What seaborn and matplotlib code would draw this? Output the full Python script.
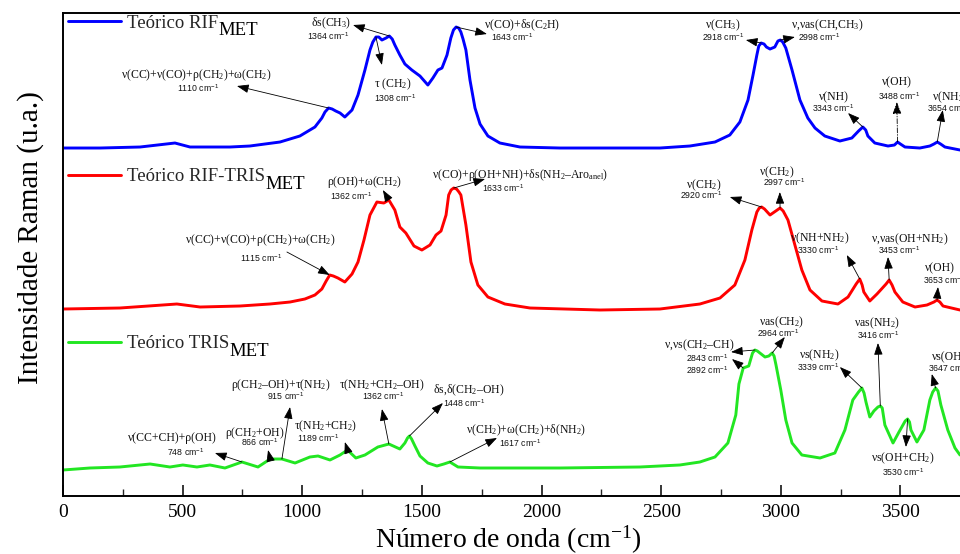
import numpy as np
import pandas as pd
import matplotlib
matplotlib.use("Agg")
import matplotlib.pyplot as plt
from matplotlib.legend import Legend
import seaborn as sns

# ---------------- spectra (wavenumber in cm-1, stacked Raman intensity, a.u.) ----------------
wn_rif = [0, 155, 322, 468, 531, 698, 781, 907, 990, 1053, 1082, 1095, 1110, 1125, 1140,
          1158, 1178, 1208, 1233, 1262, 1283, 1295, 1308, 1320, 1333, 1350, 1364, 1376,
          1387, 1408, 1429, 1458, 1492, 1525, 1546, 1567, 1584, 1605, 1621, 1632, 1643,
          1654, 1663, 1672, 1684, 1701, 1722, 1743, 1776, 1826, 1910, 2077, 2495, 2620,
          2725, 2787, 2829, 2863, 2884, 2900, 2908, 2918, 2930, 2940, 2955, 2975, 2988,
          2998, 3008, 3021, 3047, 3080, 3113, 3143, 3184, 3247, 3297, 3325, 3343, 3355,
          3364, 3393, 3448, 3475, 3488, 3500, 3519, 3581, 3623, 3640, 3654, 3668, 3686,
          3749]
int_rif = [348, 348, 349, 353, 349, 349, 350, 354, 360, 369, 378, 384, 388, 387, 385,
           383, 379, 386, 401, 426, 446, 454, 459, 459, 456, 458, 460, 457,
           451, 441, 432, 426, 420, 411, 418, 426, 428, 441, 458, 466, 469,
           468, 464, 457, 446, 416, 388, 372, 360, 353, 349, 348, 348, 350,
           354, 361, 374, 396, 421, 441, 450, 453, 452, 449, 447, 449, 455,
           456, 454, 448, 426, 396, 378, 368, 360, 355, 358, 365, 369, 366,
           360, 353, 350, 351, 354, 352, 349, 348, 350, 352, 354, 352, 349,
           346]

wn_riftris = [0, 238, 476, 573, 740, 865, 949, 1011, 1053, 1082, 1100, 1115, 1130, 1149,
              1178, 1208, 1233, 1258, 1283, 1312, 1341, 1362, 1387, 1408, 1433, 1467,
              1500, 1534, 1559, 1580, 1601, 1612, 1622, 1633, 1645, 1655, 1663, 1684,
              1705, 1734, 1776, 1847, 1952, 2244, 2495, 2662, 2746, 2808, 2850, 2879,
              2900, 2910, 2920, 2932, 2955, 2985, 2997, 3010, 3030, 3059, 3088, 3122,
              3172, 3239, 3281, 3315, 3330, 3340, 3347, 3372, 3402, 3440, 3453, 3465,
              3477, 3510, 3561, 3611, 3640, 3653, 3665, 3678, 3749]
int_riftris = [187, 188, 192, 189, 190, 192, 194, 197, 201, 207, 215, 221, 220, 218,
               214, 222, 234, 256, 281, 294, 293, 296, 286, 269, 263, 250,
               246, 251, 261, 265, 281, 301, 306, 308, 307, 304, 301, 271,
               234, 211, 199, 192, 188, 186, 187, 192, 198, 211, 236, 266,
               284, 288, 289, 287, 281, 286, 288, 285, 276, 251, 226, 206,
               195, 192, 199, 212, 217, 211, 204, 195, 202, 212, 216, 211,
               204, 194, 189, 191, 194, 196, 194, 190, 186]

wn_tris = [0, 113, 238, 364, 447, 501, 560, 614, 677, 748, 815, 866, 915, 970, 1032,
           1066, 1116, 1158, 1189, 1224, 1262, 1316, 1362, 1408, 1429, 1440, 1448, 1457,
           1471, 1492, 1525, 1563, 1592, 1617, 1651, 1743, 2077, 2411, 2578, 2662, 2725,
           2779, 2812, 2825, 2843, 2866, 2882, 2892, 2902, 2934, 2950, 2964, 2972, 2980,
           3000, 3021, 3047, 3088, 3164, 3226, 3268, 3301, 3325, 3339, 3348, 3356, 3372,
           3389, 3406, 3416, 3424, 3435, 3469, 3494, 3520, 3530, 3538, 3544, 3569, 3598,
           3623, 3635, 3647, 3657, 3669, 3698, 3728, 3749]
int_tris = [26, 28, 29, 32, 29, 31, 29, 31, 28, 34, 29, 37, 37, 33, 39,
            40, 36, 41, 46, 38, 41, 49, 52, 47, 53, 58, 60, 57,
            50, 40, 33, 30, 32, 34, 29, 28, 28, 29, 31, 34, 39,
            53, 81, 112, 128, 130, 143, 146, 145, 139, 140, 143, 140, 131,
            106, 76, 53, 41, 38, 43, 66, 96, 104, 108, 103, 94, 79,
            85, 89, 90, 88, 71, 53, 64, 75, 77, 74, 66, 54, 66,
            96, 104, 108, 105, 91, 66, 48, 41]

series_names = ["Teórico RIF", "Teórico RIF-TRIS", "Teórico TRIS"]
series_sub = "MET"

# ---------------- band assignments ----------------
peaks_rif = [1110, 1308, 1364, 1643, 2918, 2998, 3343, 3488, 3654]
modes_rif = ["ν(CC)+ν(CO)+ρ(CH$_2$)+ω(CH$_2$)", "τ (CH$_2$)", "δs(CH$_3$)",
             "ν(CO)+δs(C$_2$H)", "ν(CH$_3$)", "ν,νas(CH,CH$_3$)", "ν(NH)", "ν(OH)",
             "ν(NH$_2$)"]

peaks_riftris = [1115, 1362, 1633, 2920, 2997, 3330, 3453, 3653]
modes_riftris = ["ν(CC)+ν(CO)+ρ(CH$_2$)+ω(CH$_2$)", "ρ(OH)+ω(CH$_2$)",
                 "ν(CO)+ρ(OH+NH)+δs(NH$_2$–Aro$_{anel}$)", "ν(CH$_2$)", "ν(CH$_2$)",
                 "ν(NH+NH$_2$)", "ν,νas(OH+NH$_2$)", "ν(OH)"]

peaks_tris = [748, 866, 915, 1189, 1362, 1448, 1617, 2843, 2892, 2964, 3339, 3416, 3530, 3647]
modes_tris = ["ν(CC+CH)+ρ(OH)", "ρ(CH$_2$+OH)", "ρ(CH$_2$–OH)+τ(NH$_2$)", "τ(NH$_2$+CH$_2$)",
              "τ(NH$_2$+CH$_2$–OH)", "δs,δ(CH$_2$–OH)", "ν(CH$_2$)+ω(CH$_2$)+δ(NH$_2$)",
              "ν,νs(CH$_2$–CH)", "", "νas(CH$_2$)", "νs(NH$_2$)", "νas(NH$_2$)",
              "νs(OH+CH$_2$)", "νs(OH–CH)"]

# ---------------- label placement: (assignment xy, wavenumber xy, arrow end, arrowhead at label, align) ----------------
place_rif = [
    ((556, 421), (564, 408), (727, 410), True, "center"),
    ((1379, 412), (1387, 398), (1333, 431), True, "center"),
    ((1120, 473), (1107, 460), (1212, 471), True, "center"),
    ((1918, 471), (1876, 459), (1772, 462), True, "center"),
    ((2758, 471), (2758, 459), (2854, 456), True, "center"),
    ((3193, 471), (3159, 459), (3059, 459), True, "center"),
    ((3222, 399), (3218, 388), (3281, 383), True, "center"),
    ((3485, 414), (3494, 400), (3485, 394), True, "center"),
    ((3631, 399), (3611, 388), (3677, 386), True, "left"),
]
place_riftris = [
    ((823, 256), (827, 238), (936, 244), False, "center"),
    ((1262, 314), (1204, 300), (1337, 306), True, "center"),
    ((1910, 321), (1839, 308), (1764, 317), True, "center"),
    ((2679, 311), (2666, 301), (2787, 299), True, "center"),
    ((2984, 324), (3013, 314), (2996, 304), True, "center"),
    ((3164, 258), (3155, 246), (3276, 241), True, "center"),
    ((3540, 257), (3494, 246), (3448, 239), True, "center"),
    ((3602, 228), (3594, 216), (3657, 209), True, "left"),
]
place_tris = [
    ((456, 58), (514, 44), (635, 43), True, "center"),
    ((802, 63), (823, 54), (857, 46), True, "center"),
    ((911, 111), (932, 100), (949, 89), True, "center"),
    ((1099, 70), (1066, 58), (1178, 54), True, "center"),
    ((1333, 111), (1337, 100), (1333, 87), True, "center"),
    ((1697, 106), (1676, 93), (1588, 93), True, "center"),
    ((1935, 66), (1910, 53), (1814, 58), True, "center"),
    ((2658, 151), (2691, 138), (2796, 137), True, "center"),
    (None, (2691, 126), (2792, 144), True, "center"),
    ((3005, 174), (2988, 163), (3017, 159), True, "center"),
    ((3159, 141), (3155, 129), (3247, 129), True, "center"),
    ((3402, 173), (3406, 161), (3406, 153), True, "center"),
    ((3510, 38), (3510, 24), (3523, 49), True, "center"),
    ((3631, 139), (3615, 128), (3631, 122), True, "left"),
]

colors = ["#0000FF", "#FF0000", "#22E622"]

# ---------------- style ----------------
sns.set_theme(style="white")
SERIF = ["Liberation Serif", "DejaVu Serif"]
SANS = ["Liberation Sans", "DejaVu Sans"]
plt.rcParams["font.family"] = SERIF
plt.rcParams["mathtext.fontset"] = "custom"
plt.rcParams["mathtext.default"] = "regular"
plt.rcParams["mathtext.rm"] = "Liberation Serif"

fig = plt.figure(figsize=(9.6, 5.54), dpi=100)
ax = fig.add_axes([0.0656, 0.1047, 0.9344, 0.8718])

frames = []
for name, w, v in zip(series_names, [wn_rif, wn_riftris, wn_tris],
                      [int_rif, int_riftris, int_tris]):
    frames.append(pd.DataFrame({"wn": w, "intensidade": v, "espectro": name}))
df = pd.concat(frames, ignore_index=True)

sns.lineplot(data=df, x="wn", y="intensidade", hue="espectro", palette=colors,
             hue_order=series_names, sort=False, estimator=None, legend=False,
             linewidth=2.1, solid_joinstyle="round", solid_capstyle="round", ax=ax)

ax.set_xlim(0, 3749)
ax.set_ylim(0, 483)
ax.set_yticks([])
ax.set_xticks(np.arange(0, 3501, 500))
ax.set_xticks(np.arange(250, 3750, 500), minor=True)
ax.tick_params(axis="x", which="major", direction="in", length=8, width=1.1,
               bottom=True, top=False, labelsize=14, pad=6, colors="black")
ax.tick_params(axis="x", which="minor", direction="in", length=5, width=1.0,
               bottom=True, top=False)
for lab in ax.get_xticklabels():
    lab.set_family(SERIF)
ax.spines["right"].set_visible(False)
for s in ["left", "top", "bottom"]:
    ax.spines[s].set_color("black")
    ax.spines[s].set_linewidth(1.4)

ax.set_xlabel("Número de onda (cm$^{-1}$)", fontsize=20, color="black")
ax.set_ylabel("Intensidade Raman (u.a.)", fontsize=21, color="black")
ax.xaxis.set_label_coords(0.496, -0.058)
ax.yaxis.set_label_coords(-0.021, 0.535)

# ---------------- legends, one beside each spectrum ----------------
lines = ax.get_lines()[:3]
legend_rows = [0.979, 0.661, 0.315]
for line, name, yrow in zip(lines, series_names, legend_rows):
    leg = Legend(ax, [line], [name], loc="center left", bbox_to_anchor=(0.003, yrow),
                 frameon=False, handlelength=2.85, handletextpad=0.3, borderaxespad=0,
                 borderpad=0.1, prop={"family": SERIF, "size": 13.5})
    ax.add_artist(leg)
    ax.annotate(series_sub, xy=(1, 0), xycoords=leg.get_texts()[0], xytext=(0.5, -2.5),
                textcoords="offset points", ha="left", va="baseline",
                fontsize=13.5, family=SERIF, color="black", zorder=6)

# ---------------- band annotations ----------------
arrow_kw = dict(arrowstyle="-|>,head_length=0.6,head_width=0.22", color="black",
                lw=0.6, mutation_scale=12, shrinkA=0, shrinkB=0)


def annotate_bands(wn, inten, peaks, modes, places):
    for pk, mode, (mxy, wxy, end, head_at_label, align) in zip(peaks, modes, places):
        peak_xy = (pk, float(np.interp(pk, wn, inten)))
        if mxy is not None and mode:
            ax.text(mxy[0], mxy[1], mode, ha=align, va="center", fontsize=8.5,
                    family=SERIF, color="#111111")
        ax.text(wxy[0], wxy[1], f"{pk} cm$^{{-1}}$", ha=align, va="center",
                fontsize=6.3, family=SANS, color="#111111")
        props = dict(arrow_kw)
        if pk == 3488:
            props["linestyle"] = (0, (6, 2, 1, 2))
        if head_at_label:
            ax.annotate("", xy=end, xytext=peak_xy, arrowprops=props)
        else:
            ax.annotate("", xy=peak_xy, xytext=end, arrowprops=props)


annotate_bands(wn_rif, int_rif, peaks_rif, modes_rif, place_rif)
annotate_bands(wn_riftris, int_riftris, peaks_riftris, modes_riftris, place_riftris)
annotate_bands(wn_tris, int_tris, peaks_tris, modes_tris, place_tris)

fig.canvas.draw()
fig.savefig("out.png", dpi=100)
